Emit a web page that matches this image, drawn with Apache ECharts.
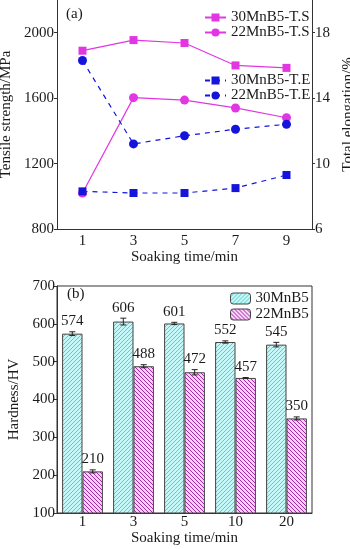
<!DOCTYPE html>
<html>
<head>
<meta charset="utf-8">
<script src="https://cdn.jsdelivr.net/npm/echarts@6/dist/echarts.min.js"></script>
<style>
  html, body { margin: 0; padding: 0; background: #fff; }
  #chart { width: 350px; height: 549px; }
</style>
</head>
<body>
<div id="chart"></div>
<script>
// (a) tensile strength / elongation vs soaking time
const timesA = ['1', '3', '5', '7', '9']
const ts30 = [1890, 1955, 1937, 1800, 1785]
const ts22 = [1020, 1603, 1588, 1540, 1480]
const te30 = [8.3, 8.2, 8.2, 8.5, 9.3]
const te22 = [16.3, 11.2, 11.7, 12.1, 12.4]
// (b) hardness
const timesB = ['1', '3', '5', '10', '20']
const hv30 = [574, 606, 601, 552, 545]
const hv22 = [210, 488, 472, 457, 350]
const hv30Err = [5, 9, 3, 3, 6]
const hv22Err = [4, 4, 7, 1, 4]

const FONT = '"Liberation Serif", "Times New Roman", serif'
const txt = { fontFamily: FONT, fontSize: 15, color: '#1a1a1a' }
const MAG = '#e236e2'
const BLUE = '#1414dc'
const plain = v => String(v)

// hatch fill for bars
function hatch(bg, fg, dir, w) {
  const s = 4
  const c = document.createElement('canvas')
  c.width = s
  c.height = s
  const ctx = c.getContext('2d')
  ctx.fillStyle = bg
  ctx.fillRect(0, 0, s, s)
  ctx.strokeStyle = fg
  ctx.lineWidth = w
  ctx.beginPath()
  if (dir > 0) {
    ctx.moveTo(-1, s + 1); ctx.lineTo(s + 1, -1)
    ctx.moveTo(-1, 1); ctx.lineTo(1, -1)
    ctx.moveTo(s - 1, s + 1); ctx.lineTo(s + 1, s - 1)
  } else {
    ctx.moveTo(-1, -1); ctx.lineTo(s + 1, s + 1)
    ctx.moveTo(s - 1, -1); ctx.lineTo(s + 1, 1)
    ctx.moveTo(-1, s - 1); ctx.lineTo(1, s + 1)
  }
  ctx.stroke()
  return { image: c, repeat: 'repeat' }
}
const cyanFill = hatch('#c4f7f7', '#52c4c8', 1, 0.9)
const pinkFill = hatch('#f6d2f6', '#a42aa8', -1, 1)

// error bars + value labels for the grouped bars
function errSeries(vals, errs, side) {
  return {
    type: 'custom',
    xAxisIndex: 1,
    yAxisIndex: 2,
    z: 5,
    silent: true,
    data: vals.map((v, i) => [i, v, errs[i]]),
    renderItem(params, api) {
      const i = api.value(0)
      const v = api.value(1)
      const e = api.value(2)
      const bw = api.size([1, 0])[0] * 0.8 / 2
      const x = api.coord([i, v])[0] + side * bw / 2
      const hi = api.coord([i, v + e])[1]
      const lo = api.coord([i, v - e])[1]
      const st = { stroke: '#222', lineWidth: 1 }
      return {
        type: 'group',
        children: [
          { type: 'line', shape: { x1: x, y1: hi, x2: x, y2: lo }, style: st },
          { type: 'line', shape: { x1: x - 3, y1: hi, x2: x + 3, y2: hi }, style: st },
          { type: 'line', shape: { x1: x - 3, y1: lo, x2: x + 3, y2: lo }, style: st },
          {
            type: 'text', x: x, y: hi - 3,
            style: { text: String(v), font: '15px ' + FONT, fill: '#1a1a1a', align: 'center', verticalAlign: 'bottom' }
          }
        ]
      }
    }
  }
}

const axisLine = { lineStyle: { color: '#333', width: 1 } }

const chart = echarts.init(document.getElementById('chart'))
chart.setOption({
  animation: false,
  backgroundColor: '#fff',
  title: [
    { text: '(a)', left: 61, top: 2, textStyle: { ...txt, fontWeight: 'normal' } },
    { text: '(b)', left: 62, top: 282, textStyle: { ...txt, fontWeight: 'normal' } }
  ],
  legend: [
    {
      data: ['30MnB5-T.S', '22MnB5-T.S'],
      orient: 'vertical', left: 199, top: 5,
      itemWidth: 21, itemHeight: 10, itemGap: 0,
      textStyle: txt
    },
    {
      data: ['30MnB5-T.E', '22MnB5-T.E'],
      orient: 'vertical', left: 199, top: 68,
      itemWidth: 21, itemHeight: 10, itemGap: 0,
      textStyle: txt
    },
    {
      data: ['30MnB5', '22MnB5'],
      orient: 'vertical', left: 225, top: 286,
      itemWidth: 20, itemHeight: 11, itemGap: 1,
      textStyle: txt,
      itemStyle: { borderColor: '#444', borderWidth: 1 }
    }
  ],
  grid: [
    { left: 57, right: 38, top: 0, height: 229, outerBoundsMode: 'none', containLabel: false },
    {
      left: 57, right: 38, top: 286, height: 227, outerBoundsMode: 'none', containLabel: false,
      show: true, borderColor: '#333', borderWidth: 1
    }
  ],
  xAxis: [
    {
      type: 'category', gridIndex: 0, data: timesA,
      name: 'Soaking time/min', nameLocation: 'middle', nameGap: 20, nameTextStyle: txt,
      axisLine: axisLine,
      axisTick: { inside: true, length: 4, alignWithLabel: true, lineStyle: { color: '#333' } },
      axisLabel: { ...txt, margin: 5 }
    },
    {
      type: 'category', gridIndex: 1, data: timesB,
      name: 'Soaking time/min', nameLocation: 'middle', nameGap: 17, nameTextStyle: txt,
      axisLine: axisLine,
      axisTick: { show: false },
      axisLabel: { ...txt, margin: 2 }
    }
  ],
  yAxis: [
    {
      type: 'value', gridIndex: 0, min: 800, max: 2200, interval: 400,
      name: 'Tensile strength/MPa', nameLocation: 'middle', nameGap: 42, nameTextStyle: txt,
      axisLine: { show: true, ...axisLine },
      axisTick: { show: true, length: 3, lineStyle: { color: '#333' } },
      axisLabel: { ...txt, margin: 3, showMaxLabel: false, formatter: plain },
      splitLine: { show: false }
    },
    {
      type: 'value', gridIndex: 0, position: 'right', min: 6, max: 20, interval: 4,
      name: 'Total elongation/%', nameLocation: 'middle', nameGap: 22, nameTextStyle: txt,
      axisLine: { show: true, ...axisLine },
      axisTick: { show: true, length: 3, lineStyle: { color: '#333' } },
      axisLabel: { ...txt, margin: 3, showMaxLabel: false, formatter: plain },
      splitLine: { show: false }
    },
    {
      type: 'value', gridIndex: 1, min: 100, max: 700, interval: 100,
      name: 'Hardness/HV', nameLocation: 'middle', nameGap: 27, nameTextStyle: txt,
      axisLine: { show: true, ...axisLine },
      axisTick: { show: true, length: 4, lineStyle: { color: '#333' } },
      axisLabel: { ...txt, margin: 2, formatter: plain },
      splitLine: { show: false }
    }
  ],
  series: [
    {
      name: '30MnB5-T.S', type: 'line', xAxisIndex: 0, yAxisIndex: 0, data: ts30,
      symbol: 'rect', symbolSize: 8,
      itemStyle: { color: MAG }, lineStyle: { color: MAG, width: 1.2 }
    },
    {
      name: '22MnB5-T.S', type: 'line', xAxisIndex: 0, yAxisIndex: 0, data: ts22,
      symbol: 'circle', symbolSize: 9,
      itemStyle: { color: MAG }, lineStyle: { color: MAG, width: 1.2 }
    },
    {
      name: '30MnB5-T.E', type: 'line', xAxisIndex: 0, yAxisIndex: 1, data: te30,
      symbol: 'rect', symbolSize: 8,
      itemStyle: { color: BLUE }, lineStyle: { color: BLUE, width: 1.2, type: [5, 5] }
    },
    {
      name: '22MnB5-T.E', type: 'line', xAxisIndex: 0, yAxisIndex: 1, data: te22,
      symbol: 'circle', symbolSize: 9,
      itemStyle: { color: BLUE }, lineStyle: { color: BLUE, width: 1.2, type: [5, 5] }
    },
    {
      name: '30MnB5', type: 'bar', xAxisIndex: 1, yAxisIndex: 2, data: hv30,
      barGap: '0%', barCategoryGap: '20%',
      itemStyle: { color: cyanFill, borderColor: '#444', borderWidth: 1 }
    },
    {
      name: '22MnB5', type: 'bar', xAxisIndex: 1, yAxisIndex: 2, data: hv22,
      barGap: '0%', barCategoryGap: '20%',
      itemStyle: { color: pinkFill, borderColor: '#444', borderWidth: 1 }
    },
    errSeries(hv30, hv30Err, -1),
    errSeries(hv22, hv22Err, 1)
  ]
})
</script>
</body>
</html>
